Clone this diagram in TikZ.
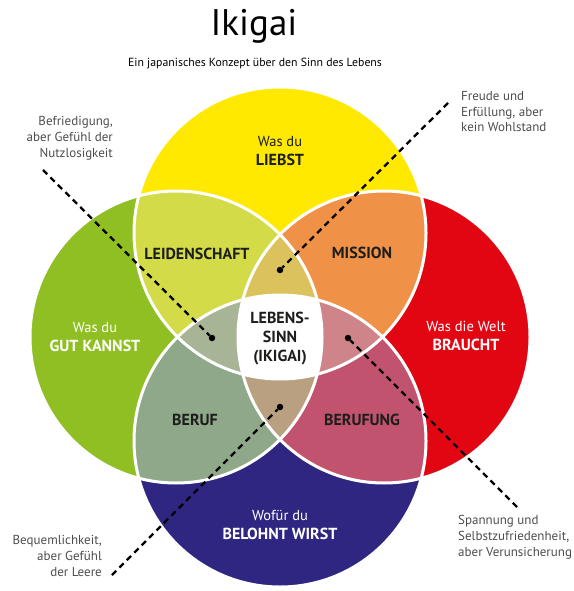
\documentclass[tikz,border=0pt]{standalone}
\usepackage{fontspec}
\setmainfont{PT Sans}
\usetikzlibrary{positioning,calc}

\definecolor{liebst}{HTML}{FFE900}
\definecolor{kannst}{HTML}{8FBF22}
\definecolor{braucht}{HTML}{E20613}
\definecolor{belohnt}{HTML}{2F2682}
\definecolor{leidenschaft}{HTML}{D3DC48}
\definecolor{mission}{HTML}{EF9146}
\definecolor{beruf}{HTML}{8FA88A}
\definecolor{berufung}{HTML}{C2536F}
\definecolor{lenstop}{HTML}{DCC25C}
\definecolor{lensleft}{HTML}{A7B496}
\definecolor{lensright}{HTML}{CE8488}
\definecolor{lensbottom}{HTML}{B9A080}
\definecolor{ink}{HTML}{1D1D1B}
\definecolor{notegray}{HTML}{4D4D4D}

\newcommand\boldcap[1]{{\fontsize{16}{19}\selectfont\bfseries #1}}
\tikzset{
  note/.style={font=\fontsize{13}{15.8}\selectfont, text=notegray, inner sep=0pt},
  circlbl/.style={font=\fontsize{14.5}{19.5}\selectfont, align=center, inner sep=0pt},
  arealbl/.style={font=\fontsize{16}{19}\selectfont\bfseries, text=ink, align=center, inner sep=0pt},
  pointer/.style={black, line width=2.3pt, dash pattern=on 6pt off 4.5pt},
  dot/.style={circle, fill=black, inner sep=0pt, minimum size=6.5pt},
  rim/.style={white, line width=3pt}
}
\def\rad{146pt}

\begin{document}
\begin{tikzpicture}[x=1pt,y=-1pt]
  \useasboundingbox (0,0) rectangle (573,591);
  \coordinate (c) at (280,337);
  \coordinate (cy) at ($(c)+(0,-104)$);
  \coordinate (cg) at ($(c)+(-104,0)$);
  \coordinate (cr) at ($(c)+(104,0)$);
  \coordinate (cn) at ($(c)+(0,104)$);

  \fill[liebst] (cy) circle[radius=\rad];
  \fill[kannst] (cg) circle[radius=\rad];
  \fill[braucht] (cr) circle[radius=\rad];
  \fill[belohnt] (cn) circle[radius=\rad];
  \begin{scope}
    \clip (cy) circle[radius=\rad];
    \fill[leidenschaft] (cg) circle[radius=\rad];
    \fill[mission] (cr) circle[radius=\rad];
  \end{scope}
  \begin{scope}
    \clip (cn) circle[radius=\rad];
    \fill[beruf] (cg) circle[radius=\rad];
    \fill[berufung] (cr) circle[radius=\rad];
  \end{scope}
  \begin{scope}
    \clip (cg) circle[radius=\rad];
    \clip (cr) circle[radius=\rad];
    \fill[lenstop] (cy) circle[radius=\rad];
    \fill[lensbottom] (cn) circle[radius=\rad];
  \end{scope}
  \begin{scope}
    \clip (cy) circle[radius=\rad];
    \clip (cn) circle[radius=\rad];
    \fill[lensleft] (cg) circle[radius=\rad];
    \fill[lensright] (cr) circle[radius=\rad];
  \end{scope}
  \begin{scope}
    \clip (cy) circle[radius=\rad];
    \clip (cn) circle[radius=\rad];
    \clip (cg) circle[radius=\rad];
    \fill[white] (cr) circle[radius=\rad];
  \end{scope}
  \foreach \k in {cy,cg,cr,cn}
    \draw[rim] (\k) circle[radius=\rad];

  \node[font=\fontsize{37}{44}\selectfont, anchor=base] (title) at (254,36) {Ikigai};
  \node[font=\fontsize{11.8}{14}\selectfont, anchor=base] (sub) at (255,67)
    {Ein japanisches Konzept über den Sinn des Lebens};

  \node[circlbl, text=ink] (liebst) at ($(cy)+(0,-82)$) {Was du\\\boldcap{LIEBST}};
  \node[circlbl, text=white] (kannst) at ($(cg)+(-81,0)$) {Was du\\\boldcap{GUT KANNST}};
  \node[circlbl, text=white] (braucht) at ($(cr)+(82,-1)$) {Was die Welt\\\boldcap{BRAUCHT}};
  \node[circlbl, text=white] (belohnt) at ($(cn)+(0,84)$) {Wofür du\\\boldcap{BELOHNT WIRST}};

  \node[arealbl] (leid) at ($(c)+(-83,-83)$) {LEIDENSCHAFT};
  \node[arealbl] (miss) at ($(c)+(82,-84)$) {MISSION};
  \node[arealbl] (beruf) at ($(c)+(-85,83)$) {BERUF};
  \node[arealbl] (berufung) at ($(c)+(82,83)$) {BERUFUNG};
  \node[arealbl] (sinn) at ($(c)+(0,2)$) {LEBENS-\\SINN\\(IKIGAI)};

  \node[dot] (dt) at ($(c)+(0,-67)$) {};
  \node[dot] (dl) at ($(c)+(-68,1)$) {};
  \node[dot] (dr) at ($(c)+(68,1)$) {};
  \node[dot] (db) at ($(c)+(0,70)$) {};
  \coordinate (el) at ($(dl)+(-169,-168)$);
  \coordinate (et) at ($(dt)+(168,-167)$);
  \coordinate (er) at ($(dr)+(169,169)$);
  \coordinate (eb) at ($(db)+(-168,168)$);
  \draw[pointer] (el) -- (dl);
  \draw[pointer] (et) -- (dt);
  \draw[pointer] (er) -- (dr);
  \draw[pointer] (eb) -- (db);

  \node[note, align=right, anchor=north east] (nutzlos) at (113,116)
    {Befriedigung,\\aber Gefühl der\\Nutzlosigkeit};
  \node[note, align=left, anchor=north west] (freude) at (461,91)
    {Freude und\\Erfüllung, aber\\kein Wohlstand};
  \node[note, align=right, anchor=north east] (leere) at (102,535)
    {Bequemlichkeit,\\aber Gefühl\\der Leere};
  \node[note, align=left, anchor=north west] (spannung) at (458,515)
    {Spannung und\\Selbstzufriedenheit,\\aber Verunsicherung};
\end{tikzpicture}
\end{document}
